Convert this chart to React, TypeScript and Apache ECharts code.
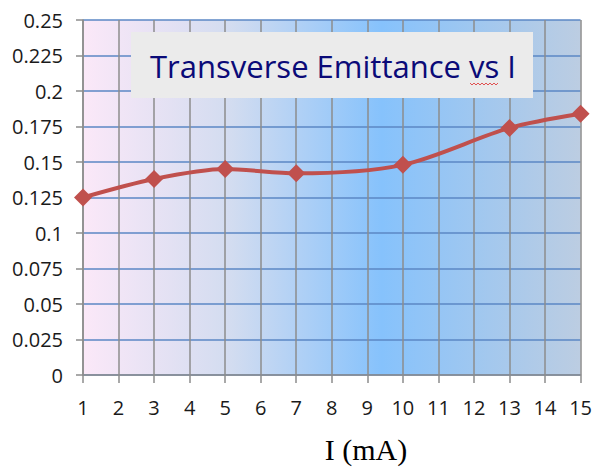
import React, { useEffect, useRef } from "react";
import * as echarts from "echarts";

const currents = [1, 3, 5, 7, 10, 13, 15];
const emittance = [0.125, 0.138, 0.145, 0.142, 0.148, 0.174, 0.184];
const titleText = "Transverse Emittance vs I";
const xName = "I (mA)";

export default function App() {
  const ref = useRef<HTMLDivElement>(null);
  useEffect(() => {
    const chart = echarts.init(ref.current!, null, { renderer: "svg" });
    const wave: number[][] = [];
    for (let i = 0; i <= 14; i++) wave.push([470 + i * 2, i % 2 === 0 ? 83 : 85]);
    chart.setOption({
      animation: false,
      grid: {
        left: 83,
        right: 12,
        top: 20,
        bottom: 95,
        show: true,
        borderWidth: 0,
        backgroundColor: new echarts.graphic.LinearGradient(0, 0, 1, 0, [
          { offset: 0, color: "#fbe8f8" },
          { offset: 0.3, color: "#d2dcf0" },
          { offset: 0.6, color: "#86c2fc" },
          { offset: 1, color: "#bccde2" },
        ]),
      },
      xAxis: {
        type: "value",
        min: 1,
        max: 15,
        interval: 1,
        axisLine: { show: true, lineStyle: { color: "#8c8c8c", width: 1.5 } },
        axisTick: { show: true, length: 8, lineStyle: { color: "#8c8c8c", width: 1.5 } },
        axisLabel: { margin: 22, fontSize: 20, color: "#1a1a1a", fontFamily: "Open Sans" },
        splitLine: { show: true, lineStyle: { color: "#8c8c8c", width: 1.5 } },
      },
      yAxis: {
        type: "value",
        min: 0,
        max: 0.25,
        interval: 0.025,
        axisLine: { show: true, lineStyle: { color: "#8c8c8c", width: 1.5 } },
        axisTick: { show: true, length: 7, lineStyle: { color: "#8c8c8c", width: 1.5 } },
        axisLabel: { margin: 20, fontSize: 20, color: "#1a1a1a", fontFamily: "Open Sans" },
        splitLine: { show: true, lineStyle: { color: "#5b87c5", width: 1.5 } },
      },
      series: [
        {
          type: "line",
          data: currents.map((c, i) => [c, emittance[i]]),
          smooth: 0.3,
          symbol: "diamond",
          symbolSize: 18,
          itemStyle: { color: "#c0504d" },
          lineStyle: { color: "#c0504d", width: 4 },
          z: 5,
        },
      ],
      graphic: [
        {
          type: "rect",
          shape: { x: 131, y: 32, width: 402, height: 66 },
          style: { fill: "#ebebeb" },
          z: 10,
        },
        {
          type: "text",
          x: 333,
          y: 66,
          style: {
            text: titleText,
            fontSize: 31,
            fontFamily: "Open Sans",
            fill: "#0a0a78",
            align: "center",
            verticalAlign: "middle",
          },
          z: 11,
        },
        {
          type: "polyline",
          shape: { points: wave },
          style: { stroke: "#e05050", lineWidth: 1, fill: null },
          z: 12,
        },
        {
          type: "text",
          x: 366,
          y: 449,
          style: {
            text: xName,
            fontSize: 30,
            fontFamily: "Liberation Serif",
            fill: "#000",
            align: "center",
            verticalAlign: "middle",
          },
        },
      ],
    });
    return () => chart.dispose();
  }, []);
  return <div ref={ref} style={{ width: 595, height: 470, position: "absolute", left: 0, top: 0 }} />;
}
